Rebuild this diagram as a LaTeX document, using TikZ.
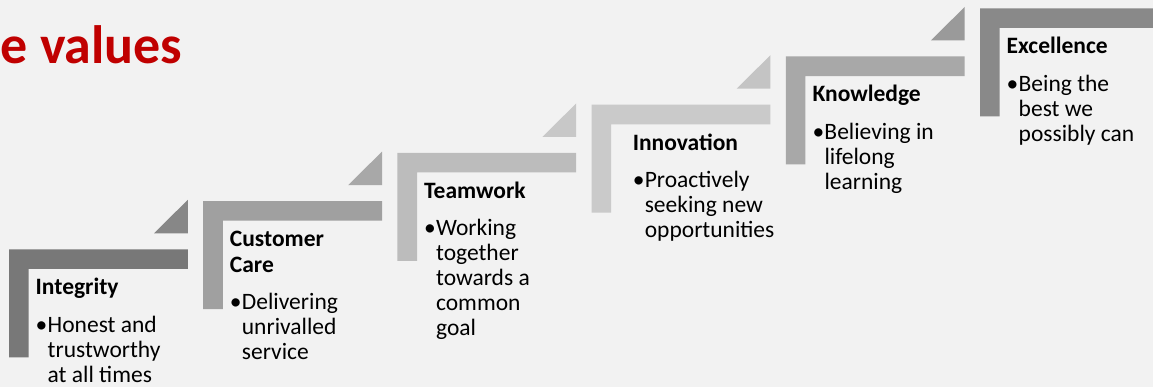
\documentclass[tikz,border=0pt]{standalone}
\usepackage{fontspec}
\setmainfont{Carlito}
\definecolor{bgc}{HTML}{F2F2F2}
\definecolor{titlered}{HTML}{C00000}
\definecolor{txt}{HTML}{000000}
% bracket / triangle greys for the six steps
\definecolor{bA}{HTML}{787878}\definecolor{tA}{HTML}{878787}
\definecolor{bB}{HTML}{A0A0A0}\definecolor{tB}{HTML}{A8A8A8}
\definecolor{bC}{HTML}{BCBCBC}\definecolor{tC}{HTML}{C8C8C8}
\definecolor{bD}{HTML}{CACACA}\definecolor{tD}{HTML}{C4C4C4}
\definecolor{bE}{HTML}{A8A8A8}\definecolor{tE}{HTML}{9A9A9A}
\definecolor{bF}{HTML}{898989}\definecolor{tF}{HTML}{898989}
\newcommand{\bul}{\makebox[12pt][l]{•}}
\newcommand{\ind}{\hspace*{12pt}}
% one step: L-shaped bracket with its small triangle above the right end
\newcommand{\stair}[4]{%
  \begin{scope}[shift={(#1,#2)}]
    \fill[#3] (0,0) -- (178.8,0) -- (178.8,19.6) -- (19.6,19.6) -- (19.6,108) -- (0,108) -- cycle;
    \fill[#4] (145,-16) -- (178.8,-16) -- (178.8,-49.5) -- cycle;
  \end{scope}}
\tikzset{
  valtitle/.style={anchor=base west, inner sep=0pt, text=txt, font=\bfseries\fontsize{23.5}{25.5}\selectfont},
  valtext/.style={anchor=base west, inner sep=0pt, text=txt, font=\fontsize{23.5}{25}\selectfont},
  heading/.style={anchor=base west, inner sep=0pt, text=titlered, font=\bfseries\fontsize{54}{60}\selectfont},
}
\begin{document}
\begin{tikzpicture}[x=1pt,y=-1pt]
\useasboundingbox (0,0) rectangle (1153,387);
\fill[bgc] (0,0) rectangle (1153,387);
\clip (0,0) rectangle (1153,387);

\node[heading] (head) at (0.5,64) {e values};

\stair{9}{249.3}{bA}{tA}
\node[valtitle] (t1) at (35.5,294.8) {Integrity};
\node[valtext] (d1) at (35.5,332.3) {\vtop{\hbox{\bul Honest and}\hbox{\ind trustworthy}\hbox{\ind at all times}}};

\stair{203.2}{201.1}{bB}{tB}
\node[valtitle] (t2) at (229.7,246.6) {\vtop{\hbox{Customer}\hbox{Care}}};
\node[valtext] (d2) at (229.7,309.6) {\vtop{\hbox{\bul Delivering}\hbox{\ind unrivalled}\hbox{\ind service}}};

\stair{397.4}{152.9}{bC}{tC}
\node[valtitle] (t3) at (423.9,198.4) {Teamwork};
\node[valtext] (d3) at (423.9,235.9) {\vtop{\hbox{\bul Working}\hbox{\ind together}\hbox{\ind towards a}\hbox{\ind common}\hbox{\ind goal}}};

\stair{591.6}{104.7}{bD}{tD}
\node[valtitle] (t4) at (632.6,150.2) {Innovation};
\node[valtext] (d4) at (632.6,187.7) {\vtop{\hbox{\bul Proactively}\hbox{\ind seeking new}\hbox{\ind opportunities}}};

\stair{785.8}{56.5}{bE}{tE}
\node[valtitle] (t5) at (812.3,102) {Knowledge};
\node[valtext] (d5) at (812.3,139.5) {\vtop{\hbox{\bul Believing in}\hbox{\ind lifelong}\hbox{\ind learning}}};

\stair{980}{8.3}{bF}{tF}
\node[valtitle] (t6) at (1006.5,53.8) {Excellence};
\node[valtext] (d6) at (1006.5,91.3) {\vtop{\hbox{\bul Being the}\hbox{\ind best we}\hbox{\ind possibly can}}};
\end{tikzpicture}
\end{document}
